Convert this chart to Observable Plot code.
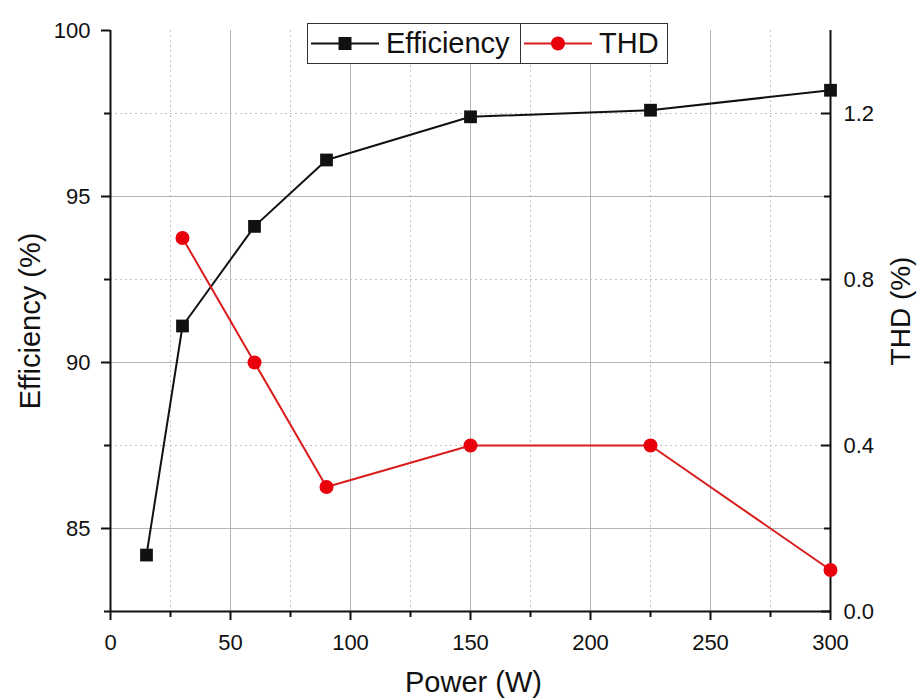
<!DOCTYPE html>
<html><head><meta charset="utf-8">
<script src="https://cdn.jsdelivr.net/npm/d3@7"></script>
<script src="https://cdn.jsdelivr.net/npm/@observablehq/plot@0.6"></script>
<style>
body{margin:0;background:#fff;font-family:"Liberation Sans",Arial,sans-serif;}
#wrap{position:relative;width:918px;height:700px;}
#legend{position:absolute;left:307px;top:23px;height:41px;display:flex;background:#fff;}
#legend .item{display:flex;align-items:center;border:1.5px solid #333;height:41px;box-sizing:border-box;font-size:29px;color:#111;padding:0 0 0 2px;}
#legend .item + .item{border-left:none;}
#legend svg{margin-right:6px;flex:none;}
</style></head>
<body><div id="wrap"><div id="legend"></div></div>
<script>
const power = [15, 30, 60, 90, 150, 225, 300];
const efficiency = [84.2, 91.1, 94.1, 96.1, 97.4, 97.6, 98.2];
const thdPower = [30, 60, 90, 150, 225, 300];
const thd = [0.9, 0.6, 0.3, 0.4, 0.4, 0.1];
const xTicks = [0, 50, 100, 150, 200, 250, 300];
const xMinor = [25, 75, 125, 175, 225, 275];
const yTicks = [85, 90, 95, 100];
const yMinor = [82.5, 87.5, 92.5, 97.5];
const thdTicks = [0.0, 0.4, 0.8, 1.2];
const thdMinor = [0.2, 0.6, 1.0];

const yMin = 82.5, yMax = 100, tMax = 1.4;
const toLeft = t => yMin + t * (yMax - yMin) / tMax;

const effData = power.map((p, i) => ({p, v: efficiency[i]}));
const thdData = thdPower.map((p, i) => ({p, v: toLeft(thd[i])}));

const font = "Liberation Sans, Arial, sans-serif";
const noLabel = () => "";
const chart = Plot.plot({
  width: 918, height: 700,
  marginLeft: 110, marginRight: 88, marginTop: 30, marginBottom: 89,
  style: {fontFamily: font, color: "#111", background: "transparent"},
  x: {domain: [0, 300], axis: null},
  y: {domain: [yMin, yMax], axis: null},
  marks: [
    Plot.gridX({ticks: xTicks.slice(1, -1), stroke: "#b5b5b5", strokeOpacity: 1, strokeWidth: 1}),
    Plot.gridX({ticks: xMinor, stroke: "#c4c4c4", strokeOpacity: 1, strokeWidth: 1, strokeDasharray: "2,3"}),
    Plot.gridY({ticks: [85, 90, 95], stroke: "#b5b5b5", strokeOpacity: 1, strokeWidth: 1}),
    Plot.gridY({ticks: yMinor.slice(1), stroke: "#c4c4c4", strokeOpacity: 1, strokeWidth: 1, strokeDasharray: "2,3"}),
    // axis lines
    Plot.ruleX([0], {stroke: "#111", strokeWidth: 2}),
    Plot.ruleX([300], {stroke: "#111", strokeWidth: 2}),
    Plot.ruleY([yMin], {stroke: "#111", strokeWidth: 2}),
    // tick marks
    Plot.axisX({ticks: xTicks, tickSize: 9, tickFormat: noLabel, strokeWidth: 2, label: null}),
    Plot.axisX({ticks: xMinor, tickSize: 6, tickFormat: noLabel, strokeWidth: 2, label: null}),
    Plot.axisY({ticks: yTicks, tickSize: 9, tickFormat: noLabel, strokeWidth: 2, label: null}),
    Plot.axisY({ticks: yMinor, tickSize: 6, tickFormat: noLabel, strokeWidth: 2, label: null}),
    Plot.axisY({anchor: "right", ticks: thdTicks.map(toLeft), tickSize: -10, tickFormat: noLabel, strokeWidth: 2, label: null}),
    Plot.axisY({anchor: "right", ticks: thdMinor.map(toLeft), tickSize: -7, tickFormat: noLabel, strokeWidth: 2, label: null}),
    // tick labels
    Plot.text(xTicks, {x: d => d, y: () => yMin, dy: 31, text: d => String(d), textAnchor: "middle", lineAnchor: "middle", fontSize: 22, fill: "#111"}),
    Plot.text(yTicks, {x: () => 0, y: d => d, dx: -20, text: d => String(d), textAnchor: "end", lineAnchor: "middle", fontSize: 22, fill: "#111"}),
    Plot.text(thdTicks, {x: () => 300, y: d => toLeft(d), dx: 13, text: d => d.toFixed(1), textAnchor: "start", lineAnchor: "middle", fontSize: 22, fill: "#111"}),
    // titles
    Plot.text([0], {frameAnchor: "left", textAnchor: "middle", lineAnchor: "middle", dx: -80, rotate: -90, text: () => "Efficiency (%)", fontSize: 29, fill: "#111"}),
    Plot.text([0], {frameAnchor: "right", textAnchor: "middle", lineAnchor: "middle", dx: 71, dy: -10, rotate: -90, text: () => "THD (%)", fontSize: 28, fill: "#111"}),
    Plot.text([0], {frameAnchor: "bottom", textAnchor: "middle", lineAnchor: "middle", dx: 3, dy: 71, text: () => "Power (W)", fontSize: 29, fill: "#111"}),
    // data
    Plot.line(effData, {x: "p", y: "v", stroke: "#111", strokeWidth: 2}),
    Plot.dot(effData, {x: "p", y: "v", symbol: "square", r: 7.2, fill: "#111", stroke: "none"}),
    Plot.line(thdData, {x: "p", y: "v", stroke: "#d91c1c", strokeWidth: 2}),
    Plot.dot(thdData, {x: "p", y: "v", symbol: "circle", r: 7, fill: "#e8000b", stroke: "none"})
  ]
});
const wrap = document.getElementById("wrap");
wrap.insertBefore(chart, wrap.firstChild);

const legendItems = [
  {name: "Efficiency", color: "#111", symbol: "square", width: 214},
  {name: "THD", color: "#e8000b", line: "#d91c1c", symbol: "circle", width: 147}
];
const legend = document.getElementById("legend");
for (const it of legendItems) {
  const div = document.createElement("div");
  div.className = "item";
  div.style.width = it.width + "px";
  const ln = it.line || it.color;
  const mk = it.symbol === "square"
    ? `<rect x="28.5" y="9" width="13" height="13" fill="${it.color}"/>`
    : `<circle cx="35" cy="15.5" r="7" fill="${it.color}"/>`;
  div.innerHTML = `<svg width="70" height="31"><line x1="1" x2="69" y1="15.5" y2="15.5" stroke="${ln}" stroke-width="2"/>${mk}</svg><span>${it.name}</span>`;
  legend.appendChild(div);
}
</script></body></html>
